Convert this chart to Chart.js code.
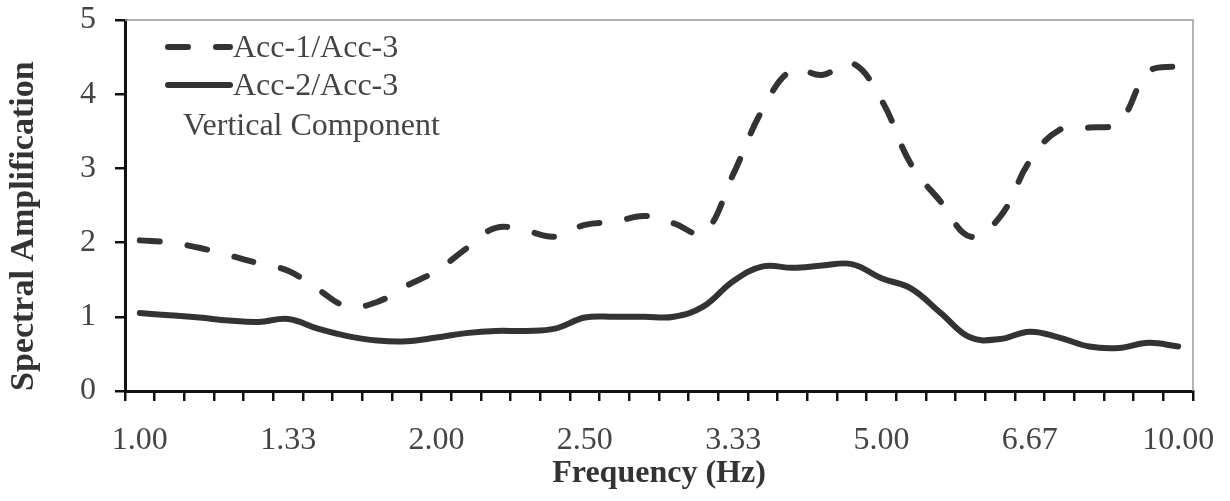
<!DOCTYPE html>
<html>
<head>
<meta charset="utf-8">
<script src="https://cdn.jsdelivr.net/npm/chart.js@4/dist/chart.umd.min.js"></script>
<style>
  body { margin: 0; background: #fff; }
  #wrap { width: 1230px; height: 501px; }
</style>
</head>
<body>
<div id="wrap"><canvas id="chart" width="1230" height="501"></canvas></div>
<script>
// x axis: 36 evenly spaced categories, a label on every 5th one
const tickLabels = ['1.00', '1.33', '2.00', '2.50', '3.33', '5.00', '6.67', '10.00'];
const categoryCount = 36;

// Spectral amplification ratios
const acc1Acc3 = [2.03, 2.0, 1.93, 1.83, 1.72, 1.62, 1.37, 1.14, 1.2, 1.42,
                  1.62, 1.92, 2.2, 2.16, 2.08, 2.24, 2.28, 2.36, 2.26, 2.13,
                  2.92, 3.8, 4.33, 4.26, 4.42, 3.92, 3.05, 2.55, 2.08, 2.35,
                  3.1, 3.52, 3.55, 3.62, 4.3, 4.38];
const acc2Acc3 = [1.05, 1.02, 0.99, 0.95, 0.93, 0.97, 0.84, 0.74, 0.68, 0.67,
                  0.72, 0.78, 0.81, 0.81, 0.84, 0.99, 1.0, 1.0, 1.0, 1.14,
                  1.48, 1.68, 1.66, 1.69, 1.71, 1.52, 1.38, 1.05, 0.72, 0.7,
                  0.8, 0.72, 0.6, 0.58, 0.65, 0.6];

const categories = [];
for (let i = 0; i < categoryCount; i++) {
    categories.push(i % 5 === 0 ? tickLabels[i / 5] : '');
}

const serif = "'Liberation Serif', 'Times New Roman', serif";
const lineColor = '#333';

// gray frame on top and right of the plot area, like the Excel original
const plotFrame = {
    id: 'plotFrame',
    beforeDatasetsDraw(chart) {
        const { ctx, chartArea: a } = chart;
        ctx.save();
        ctx.strokeStyle = '#9a9a9a';
        ctx.lineWidth = 1.5;
        ctx.beginPath();
        ctx.moveTo(a.left, a.top);
        ctx.lineTo(a.right, a.top);
        ctx.lineTo(a.right, a.bottom);
        ctx.stroke();
        ctx.restore();
    }
};

// legend drawn inside the plot, with the component note under it
const insideLegend = {
    id: 'insideLegend',
    afterDraw(chart) {
        const { ctx, chartArea: a } = chart;
        const x0 = a.left + 43, x1 = a.left + 105;
        const rows = [a.top + 27, a.top + 65];
        ctx.save();
        chart.data.datasets.forEach((ds, i) => {
            ctx.strokeStyle = ds.borderColor;
            ctx.lineWidth = ds.borderWidth;
            ctx.lineCap = 'round';
            ctx.setLineDash(ds.borderDash || []);
            ctx.beginPath();
            ctx.moveTo(x0, rows[i]);
            ctx.lineTo(x1, rows[i]);
            ctx.stroke();
            ctx.setLineDash([]);
            ctx.fillStyle = '#444';
            ctx.font = "32px " + serif;
            ctx.textBaseline = 'middle';
            ctx.fillText(ds.label, x1 + 3, rows[i] + 2);
        });
        ctx.fillStyle = '#444';
        ctx.font = "32px " + serif;
        ctx.textBaseline = 'alphabetic';
        ctx.fillText('Vertical Component', a.left + 58, a.top + 115);
        ctx.restore();
    }
};

new Chart(document.getElementById('chart'), {
    type: 'line',
    data: {
        labels: categories,
        datasets: [{
            label: 'Acc-1/Acc-3',
            data: acc1Acc3,
            borderColor: lineColor,
            borderWidth: 6,
            borderDash: [20, 28],
            borderCapStyle: 'round',
            pointRadius: 0,
            tension: 0.4,
            fill: false
        }, {
            label: 'Acc-2/Acc-3',
            data: acc2Acc3,
            borderColor: lineColor,
            borderWidth: 6,
            borderCapStyle: 'round',
            borderJoinStyle: 'round',
            pointRadius: 0,
            tension: 0.4,
            fill: false
        }]
    },
    options: {
        responsive: false,
        animation: false,
        layout: { padding: { top: 20, right: 37, left: 0, bottom: 0 } },
        plugins: {
            legend: { display: false },
            tooltip: { enabled: false }
        },
        scales: {
            x: {
                type: 'category',
                offset: true,
                afterFit: s => {
                    s.height = 110;
                    s.paddingLeft = 0;
                    s.paddingRight = 0;
                },
                grid: {
                    offset: true,
                    drawOnChartArea: false,
                    color: '#111',
                    lineWidth: 2.5,
                    tickLength: 10
                },
                border: { display: true, color: '#111', width: 3 },
                ticks: {
                    autoSkip: false,
                    maxRotation: 0,
                    padding: 20,
                    color: '#444',
                    font: { family: serif, size: 32 }
                },
                title: {
                    display: true,
                    text: 'Frequency (Hz)',
                    color: '#333',
                    padding: { top: 0, bottom: 8 },
                    font: { family: serif, size: 32, weight: 'bold' }
                }
            },
            y: {
                min: 0,
                max: 5,
                afterFit: s => {
                    s.width = 125;
                    s.paddingTop = 0;
                    s.paddingBottom = 0;
                },
                grid: {
                    drawOnChartArea: false,
                    color: '#111',
                    lineWidth: 2.5,
                    tickLength: 10
                },
                border: { display: true, color: '#111', width: 3 },
                ticks: {
                    stepSize: 1,
                    padding: 19,
                    color: '#444',
                    font: { family: serif, size: 32 }
                },
                title: {
                    display: true,
                    text: 'Spectral Amplification',
                    align: 'start',
                    color: '#333',
                    padding: { top: 4, bottom: 0 },
                    font: { family: serif, size: 34, weight: 'bold' }
                }
            }
        }
    },
    plugins: [plotFrame, insideLegend]
});
</script>
</body>
</html>
